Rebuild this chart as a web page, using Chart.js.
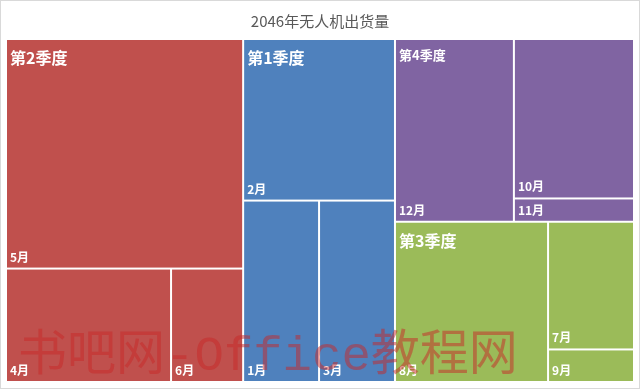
<!DOCTYPE html>
<html>
<head>
<meta charset="utf-8">
<script src="https://cdn.jsdelivr.net/npm/chart.js@4.4.1/dist/chart.umd.min.js"></script>
<style>
  html, body { margin: 0; padding: 0; background: #fff; }
  #wrap { position: relative; width: 640px; height: 389px; box-sizing: border-box; border: 1px solid #d9d9d9; }
  #chart { display: block; }
</style>
</head>
<body>
<div id="wrap"><canvas id="chart" width="638" height="387"></canvas></div>
<script>
// 2046年无人机出货量 (treemap: quarter -> month)
const quarters = ['第1季度', '第2季度', '第3季度', '第4季度'];
const quarterColors = ['#4F81BD', '#C0504D', '#9BBB59', '#8064A2'];
const months = ['1月', '2月', '3月', '4月', '5月', '6月', '7月', '8月', '9月', '10月', '11月', '12月'];
const shipments = [64, 114, 64, 87, 253, 38, 51, 114, 13, 89, 13, 101];

const CJK = '"Noto Sans CJK SC", "Noto Sans", sans-serif';
// the source chart was laid out in a slightly flatter box than it is shown in
const LAYOUT_Y_SQUASH = 0.77;

// build hierarchy: quarter groups, sorted big -> small like Excel does
const sum = arr => arr.reduce((s, d) => s + d.v, 0);
const groups = quarters.map((q, qi) => {
    const children = months
        .map((m, i) => ({ name: m, v: shipments[i], q: Math.floor(i / 3) }))
        .filter(d => d.q === qi)
        .sort((a, b) => b.v - a.v);
    return { name: q, color: quarterColors[qi], children, v: sum(children) };
}).sort((a, b) => b.v - a.v);

// squarified layout
function worst(row, side, scale) {
    const s = sum(row) * scale;
    let max = 0, min = Infinity;
    row.forEach(r => { const a = r.v * scale; max = Math.max(max, a); min = Math.min(min, a); });
    return Math.max(side * side * max / (s * s), (s * s) / (side * side * min));
}

function squarify(items, x, y, w, h) {
    const out = [];
    const scale = w * h / sum(items);
    let rest = items.slice();
    while (rest.length) {
        const side = Math.min(w, h);
        let row = [rest[0]];
        let i = 1;
        while (i < rest.length) {
            const cand = row.concat(rest[i]);
            if (worst(cand, side, scale) <= worst(row, side, scale)) {
                row = cand; i++;
            } else break;
        }
        rest = rest.slice(i);
        const area = sum(row) * scale;
        if (w >= h) {
            const sw = area / h;
            let yy = y;
            row.forEach(r => { const rh = r.v * scale / sw; out.push({ item: r, x, y: yy, w: sw, h: rh }); yy += rh; });
            x += sw; w -= sw;
        } else {
            const sh = area / w;
            let xx = x;
            row.forEach(r => { const rw = r.v * scale / sh; out.push({ item: r, x: xx, y, w: rw, h: sh }); xx += rw; });
            y += sh; h -= sh;
        }
    }
    return out;
}

const treemapPlugin = {
    id: 'treemap',
    afterDatasetsDraw(chart) {
        const { ctx, chartArea, scales } = chart;
        const W = chartArea.width, H = chartArea.height * LAYOUT_Y_SQUASH;
        const px = v => scales.x.getPixelForValue(v / W);
        const py = v => scales.y.getPixelForValue(v / H);
        const tops = squarify(groups, 0, 0, W, H);
        tops.forEach(g => { g.kids = squarify(g.item.children, g.x, g.y, g.w, g.h); });
        ctx.save();
        ctx.textAlign = 'left';
        ctx.textBaseline = 'alphabetic';
        // leaf cells
        tops.forEach(g => g.kids.forEach(b => {
            const x0 = px(b.x), x1 = px(b.x + b.w), y0 = py(b.y), y1 = py(b.y + b.h);
            ctx.fillStyle = g.item.color;
            ctx.fillRect(x0 + 1, y0 + 1, x1 - x0 - 2, y1 - y0 - 2);
            ctx.fillStyle = '#ffffff';
            ctx.font = 'bold 12px ' + CJK;
            ctx.fillText(b.item.name, x0 + 4, y1 - 7);
        }));
        // quarter labels
        tops.forEach(g => {
            const first = g.kids[0];
            const small = px(first.x + first.w) - px(first.x) < 130;
            ctx.fillStyle = '#ffffff';
            ctx.font = 'bold ' + (small ? 13 : 16) + 'px ' + CJK;
            ctx.fillText(g.item.name, px(g.x) + 4, py(g.y) + (small ? 21 : 25));
        });
        ctx.restore();
    },
    afterDraw(chart) {
        // site watermark
        const ctx = chart.ctx;
        ctx.save();
        ctx.fillStyle = 'rgba(200, 40, 40, 0.5)';
        ctx.font = '49px "Liberation Mono", ' + CJK;
        ctx.textBaseline = 'alphabetic';
        ctx.textAlign = 'left';
        ctx.fillText('书吧网-Office教程网', 17, 369);
        ctx.restore();
    }
};

new Chart(document.getElementById('chart'), {
    type: 'scatter',
    data: { datasets: [{ data: [] }] },
    options: {
        responsive: false,
        animation: false,
        events: [],
        layout: { padding: { left: 5, right: 5, top: 0, bottom: 6 } },
        scales: {
            x: { display: false, min: 0, max: 1 },
            y: { display: false, min: 0, max: 1, reverse: true }
        },
        plugins: {
            legend: { display: false },
            tooltip: { enabled: false },
            title: {
                display: true,
                text: '2046年无人机出货量',
                color: '#595959',
                font: { family: CJK, size: 15, weight: 'normal' },
                padding: { top: 11, bottom: 9 }
            }
        }
    },
    plugins: [treemapPlugin]
});
</script>
</body>
</html>
